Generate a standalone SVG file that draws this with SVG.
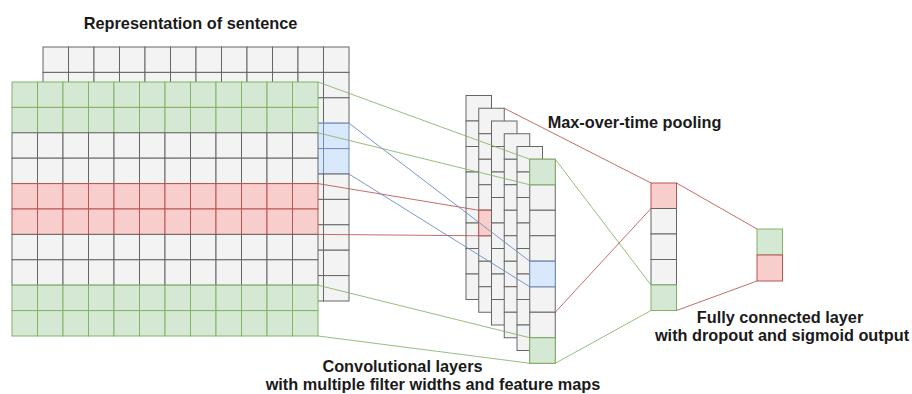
<svg xmlns="http://www.w3.org/2000/svg" xmlns:xlink="http://www.w3.org/1999/xlink" width="912" height="394" viewBox="0 0 912 394">
<style>
.gray{fill:#f3f3f3;stroke:#666666}
.grn{fill:#d5e8d4;stroke:#82b366}
.red{fill:#f8cecc;stroke:#b85450}
.blu{fill:#dae8fc;stroke:#6c8ebf}
rect{stroke-width:1}
.lg{stroke:#82b366;stroke-width:1;fill:none;stroke-opacity:0.85}
.lr{stroke:#b85450;stroke-width:1;fill:none;stroke-opacity:0.85}
.lb{stroke:#6c8ebf;stroke-width:1;fill:none;stroke-opacity:0.9}
text{font-family:"Liberation Sans",Arial,sans-serif;font-weight:bold;font-size:16.3px;fill:#1a1a1a;text-anchor:middle}
</style>
<defs>
<g id="row">
<rect x="0" y="0" width="25.5" height="25.4"/><rect x="25.5" y="0" width="25.5" height="25.4"/><rect x="51" y="0" width="25.5" height="25.4"/><rect x="76.5" y="0" width="25.5" height="25.4"/><rect x="102" y="0" width="25.5" height="25.4"/><rect x="127.5" y="0" width="25.5" height="25.4"/><rect x="153" y="0" width="25.5" height="25.4"/><rect x="178.5" y="0" width="25.5" height="25.4"/><rect x="204" y="0" width="25.5" height="25.4"/><rect x="229.5" y="0" width="25.5" height="25.4"/><rect x="255" y="0" width="25.5" height="25.4"/><rect x="280.5" y="0" width="25.5" height="25.4"/>
</g>
<g id="col">
<rect x="0" y="0" width="25.5" height="25.5"/><rect x="0" y="25.5" width="25.5" height="25.5"/><rect x="0" y="51" width="25.5" height="25.5"/><rect x="0" y="76.5" width="25.5" height="25.5"/><rect x="0" y="102" width="25.5" height="25.5"/><rect x="0" y="127.5" width="25.5" height="25.5"/><rect x="0" y="153" width="25.5" height="25.5"/><rect x="0" y="178.5" width="25.5" height="25.5"/>
</g>
</defs>
<rect x="0" y="0" width="912" height="394" fill="#ffffff" stroke="none"/>

<g id="sentence-back">
<use xlink:href="#row" x="43" y="47" class="gray"/>
<use xlink:href="#row" x="43" y="72.4" class="gray"/>
<use xlink:href="#row" x="43" y="97.8" class="gray"/>
<use xlink:href="#row" x="43" y="123.2" class="blu"/>
<use xlink:href="#row" x="43" y="148.6" class="blu"/>
<use xlink:href="#row" x="43" y="174" class="gray"/>
<use xlink:href="#row" x="43" y="199.4" class="gray"/>
<use xlink:href="#row" x="43" y="224.8" class="gray"/>
<use xlink:href="#row" x="43" y="250.2" class="gray"/>
<use xlink:href="#row" x="43" y="275.6" class="gray"/>
</g>
<g id="sentence-front">
<use xlink:href="#row" x="12" y="82" class="grn"/>
<use xlink:href="#row" x="12" y="107.4" class="grn"/>
<use xlink:href="#row" x="12" y="132.8" class="gray"/>
<use xlink:href="#row" x="12" y="158.2" class="gray"/>
<use xlink:href="#row" x="12" y="183.6" class="red"/>
<use xlink:href="#row" x="12" y="209" class="red"/>
<use xlink:href="#row" x="12" y="234.4" class="gray"/>
<use xlink:href="#row" x="12" y="259.8" class="gray"/>
<use xlink:href="#row" x="12" y="285.2" class="grn"/>
<use xlink:href="#row" x="12" y="310.6" class="grn"/>
</g>

<g id="feature-map-1"><use xlink:href="#col" x="466" y="95.5" class="gray"/></g>
<g id="feature-map-2"><use xlink:href="#col" x="478.75" y="108.25" class="gray"/><rect x="478.75" y="210.25" width="25.5" height="25.5" class="red"/></g>
<g id="feature-map-3"><use xlink:href="#col" x="491.5" y="121" class="gray"/></g>
<g id="feature-map-4"><use xlink:href="#col" x="504.25" y="133.75" class="gray"/></g>
<g id="feature-map-5"><use xlink:href="#col" x="517" y="146.5" class="gray"/></g>
<g id="feature-map-6">
<use xlink:href="#col" x="529.75" y="159.25" class="gray"/>
<rect x="529.75" y="159.25" width="25.5" height="25.5" class="grn"/>
<rect x="529.75" y="261.25" width="25.5" height="25.5" class="blu"/>
<rect x="529.75" y="337.75" width="25.5" height="25.5" class="grn"/>
</g>

<g id="pooling">
<rect x="651" y="183" width="25.5" height="25.5" class="red"/>
<rect x="651" y="208.5" width="25.5" height="25.5" class="gray"/>
<rect x="651" y="234" width="25.5" height="25.5" class="gray"/>
<rect x="651" y="259.5" width="25.5" height="25.5" class="gray"/>
<rect x="651" y="285" width="25.5" height="25.5" class="grn"/>
</g>

<g id="output">
<rect x="757" y="229" width="25.5" height="26" class="grn"/>
<rect x="757" y="255" width="25.5" height="26" class="red"/>
</g>

<g id="connectors">
<line class="lg" x1="318" y1="82" x2="529.75" y2="159.25"/>
<line class="lg" x1="318" y1="132.8" x2="529.75" y2="184.75"/>
<line class="lr" x1="318" y1="183.6" x2="478.75" y2="210.25"/>
<line class="lr" x1="318" y1="234.4" x2="478.75" y2="235.75"/>
<line class="lg" x1="318" y1="285.2" x2="529.75" y2="337.75"/>
<line class="lg" x1="318" y1="336" x2="529.75" y2="363.25"/>
<line class="lb" x1="349" y1="123.2" x2="529.75" y2="261.25"/>
<line class="lb" x1="349" y1="174" x2="529.75" y2="286.75"/>
<line class="lr" x1="504.25" y1="108.25" x2="651" y2="183"/>
<line class="lg" x1="555.25" y1="159.25" x2="651" y2="285"/>
<line class="lr" x1="555.25" y1="312.25" x2="651" y2="208.5"/>
<line class="lg" x1="555.25" y1="363.25" x2="651" y2="310.5"/>
<line class="lr" x1="676.5" y1="183" x2="757" y2="229"/>
<line class="lr" x1="676.5" y1="310.5" x2="757" y2="281"/>
</g>

<g id="labels">
<text x="190.5" y="29">Representation of sentence</text>
<text x="634.5" y="128">Max-over-time pooling</text>
<text x="780" y="323">Fully connected layer</text>
<text x="782" y="341">with dropout and sigmoid output</text>
<text x="402.5" y="372">Convolutional layers</text>
<text x="433" y="390">with multiple filter widths and feature maps</text>
</g>
</svg>
